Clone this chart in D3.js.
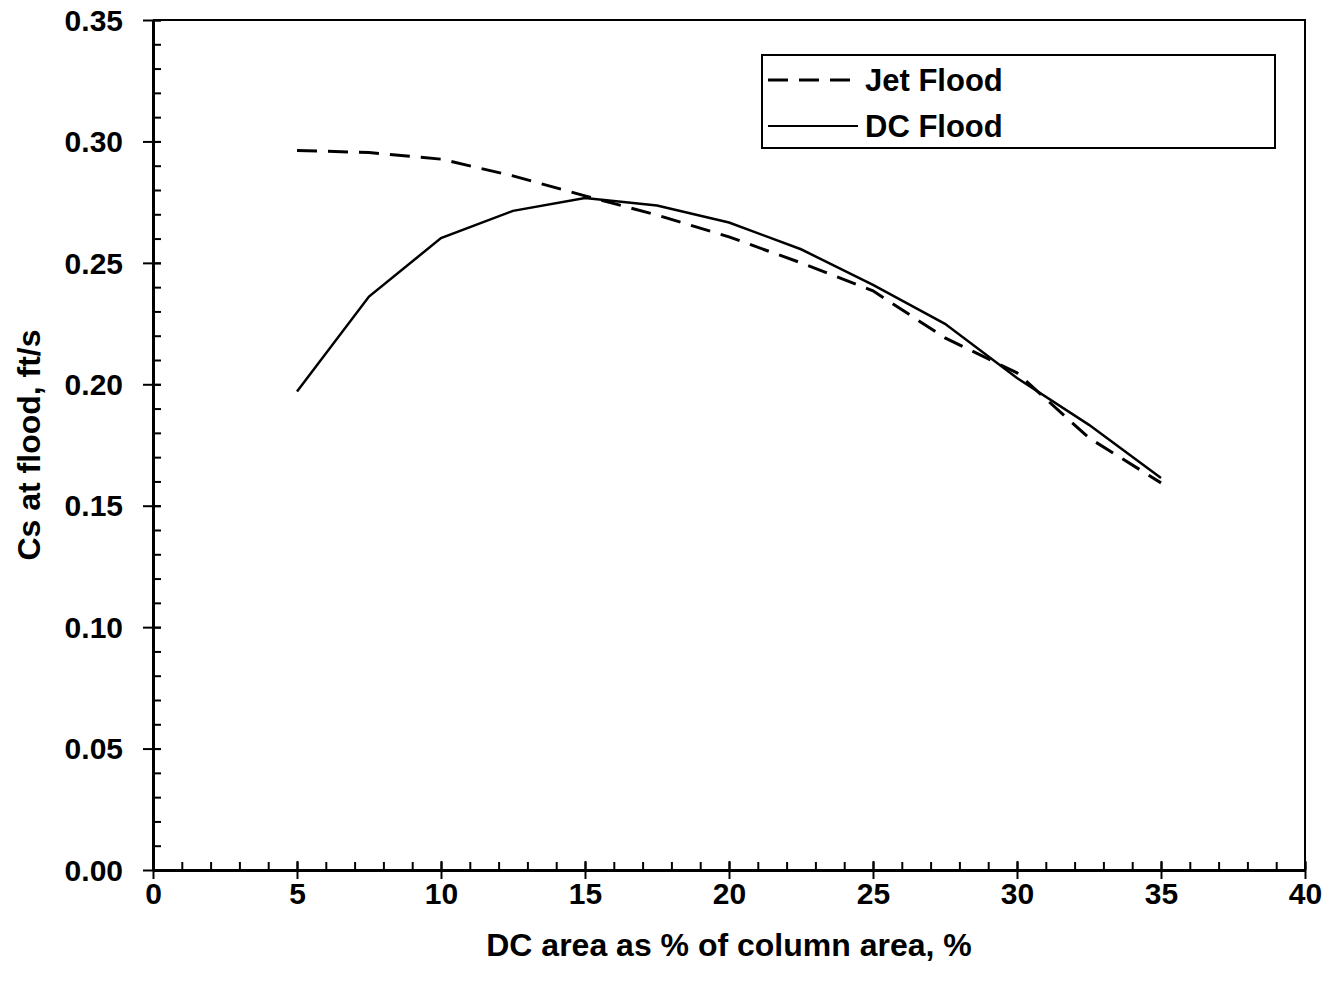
<!DOCTYPE html>
<html>
<head>
<meta charset="utf-8">
<script src="https://cdn.jsdelivr.net/npm/d3@7"></script>
<style>
  body { margin: 0; background: #fff; }
  text { font-family: "Liberation Sans", Arial, sans-serif; font-weight: bold; fill: #000; }
</style>
</head>
<body>
<div id="chart"></div>
<script>
// data
var dcArea = [5, 7.5, 10, 12.5, 15, 17.5, 20, 22.5, 25, 27.5, 30, 32.5, 35];
var jetFlood = [0.2963, 0.2954, 0.2927, 0.2858, 0.2776, 0.2697, 0.2607, 0.2500, 0.2385, 0.2191, 0.2047, 0.1779, 0.1594];
var dcFlood = [0.1970, 0.2361, 0.2602, 0.2714, 0.2767, 0.2736, 0.2666, 0.2556, 0.2409, 0.2249, 0.2026, 0.1833, 0.1614];
var xTicks = [0, 5, 10, 15, 20, 25, 30, 35, 40];
var yTicks = [0, 0.05, 0.10, 0.15, 0.20, 0.25, 0.30, 0.35];
var seriesNames = ['Jet Flood', 'DC Flood'];

var margin = {top: 20, right: 24, bottom: 122, left: 153};
var W = 1329, H = 992;
var width = W - margin.left - margin.right;
var height = H - margin.top - margin.bottom;

var x = d3.scaleLinear().domain([0, 40]).range([0, width]);
var y = d3.scaleLinear().domain([0, 0.35]).range([height, 0]);

var svg = d3.select('#chart').append('svg')
  .attr('width', W)
  .attr('height', H)
  .append('g')
  .attr('transform', 'translate(' + margin.left + ',' + margin.top + ')');

// frame (top and right edges)
svg.append('path')
  .attr('d', 'M0,0H' + width + 'V' + height)
  .attr('fill', 'none')
  .attr('stroke', '#000')
  .attr('stroke-width', 2);

// minor ticks
svg.append('g')
  .attr('transform', 'translate(0,' + height + ')')
  .call(d3.axisBottom(x).ticks(40).tickSize(-8).tickFormat(''))
  .call(function(g) { g.select('.domain').remove(); })
  .selectAll('line').attr('stroke-width', 2);

svg.append('g')
  .call(d3.axisLeft(y).ticks(35).tickSize(-8).tickFormat(''))
  .call(function(g) { g.select('.domain').remove(); })
  .selectAll('line').attr('stroke-width', 2);

// major axes
var xAxis = svg.append('g')
  .attr('transform', 'translate(0,' + height + ')')
  .call(d3.axisBottom(x).tickValues(xTicks).tickSize(9).tickSizeOuter(0).tickPadding(3));
xAxis.selectAll('.tick line').clone().attr('y2', -9);

var yAxis = svg.append('g')
  .call(d3.axisLeft(y).tickValues(yTicks).tickFormat(d3.format('.2f')).tickSize(10).tickSizeOuter(0).tickPadding(20));
yAxis.selectAll('.tick line').clone().attr('x2', 8);

[xAxis, yAxis].forEach(function(a) {
  a.select('.domain').attr('stroke-width', 3);
  a.selectAll('line').attr('stroke-width', 2);
  a.selectAll('text').style('font-size', '30px');
});
xAxis.selectAll('text').attr('dy', '0.74em');
yAxis.selectAll('text').attr('dy', '0.34em');

// axis titles
svg.append('text')
  .attr('x', width / 2)
  .attr('y', height + 86)
  .attr('text-anchor', 'middle')
  .style('font-size', '32px')
  .text('DC area as % of column area, %');

svg.append('text')
  .attr('transform', 'translate(-113,' + (height / 2) + ') rotate(-90)')
  .attr('text-anchor', 'middle')
  .style('font-size', '32px')
  .text('Cs at flood, ft/s');

// lines
var line = d3.line()
  .x(function(d) { return x(d[0]); })
  .y(function(d) { return y(d[1]); });

svg.append('path')
  .datum(d3.zip(dcArea, jetFlood))
  .attr('d', line)
  .attr('fill', 'none')
  .attr('stroke', '#000')
  .attr('stroke-width', 3)
  .attr('stroke-dasharray', '20,11');

svg.append('path')
  .datum(d3.zip(dcArea, dcFlood))
  .attr('d', line)
  .attr('fill', 'none')
  .attr('stroke', '#000')
  .attr('stroke-width', 2.5);

// legend
var legend = svg.append('g')
  .attr('transform', 'translate(' + (762 - margin.left) + ',' + (55 - margin.top) + ')');

legend.append('rect')
  .attr('width', 513)
  .attr('height', 93)
  .attr('fill', '#fff')
  .attr('stroke', '#000')
  .attr('stroke-width', 2);

var item = legend.selectAll('.item')
  .data(seriesNames)
  .enter().append('g')
  .attr('class', 'item')
  .attr('transform', function(d, i) { return 'translate(0,' + (25 + i * 46) + ')'; });

item.append('line')
  .attr('x1', 6)
  .attr('x2', 96)
  .attr('stroke', '#000')
  .attr('stroke-width', function(d, i) { return i === 0 ? 3 : 2; })
  .attr('stroke-dasharray', function(d, i) { return i === 0 ? '20,11' : null; });

item.append('text')
  .attr('x', 103)
  .attr('dy', '0.36em')
  .style('font-size', '31px')
  .text(function(d) { return d; });
</script>
</body>
</html>
